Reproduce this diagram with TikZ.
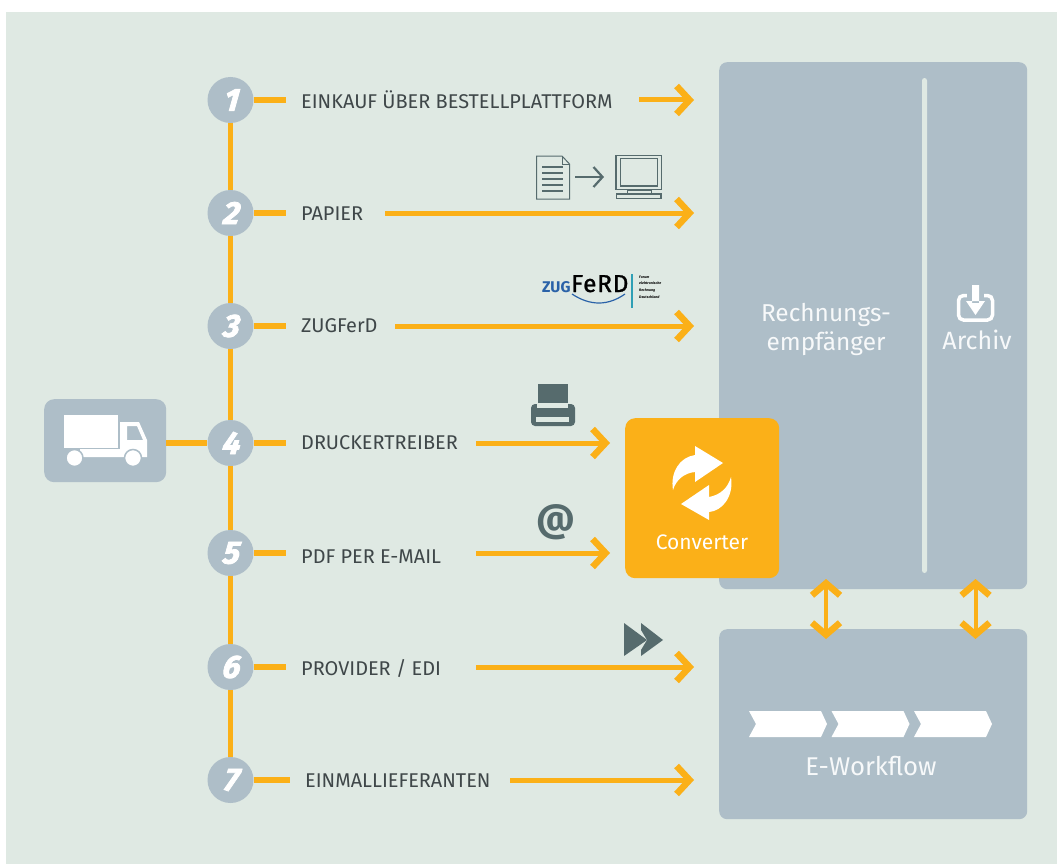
\documentclass[tikz,border=0pt]{standalone}
\usepackage{fontspec}
\setmainfont{Fira Sans}
\newfontfamily\numfont[BoldItalicFeatures={FakeBold=2.5,FakeSlant=0.14}]{Fira Sans}
\newfontfamily\zugfont[FakeBold=1,LetterSpace=3]{Fira Sans}
\usetikzlibrary{arrows.meta}
\definecolor{bgc}{HTML}{DFE9E3}
\definecolor{panelc}{HTML}{AEBEC8}
\definecolor{orangec}{HTML}{FBB018}
\definecolor{darkc}{HTML}{566B6D}
\definecolor{txtc}{HTML}{3F4749}
\definecolor{softw}{HTML}{F7F9FA}
\definecolor{zugblue}{HTML}{2A62A8}
\definecolor{zugteal}{HTML}{2F9FB5}
\tikzset{
 x=1pt,y=-1pt,
 num/.style={circle,fill=panelc,minimum size=46pt,inner sep=0pt,text=white,font=\fontsize{32}{32}\selectfont\numfont\bfseries\itshape},
 lbl/.style={anchor=west,inner xsep=15pt,inner ysep=0pt,text=txtc,font=\fontsize{19.9}{22}\selectfont},
 ptxt/.style={inner sep=0pt,text=softw,font=\fontsize{24.4}{29}\selectfont,align=center},
 panel/.style={fill=panelc,rounded corners=8pt,inner sep=0pt,anchor=north west},
 stub/.style={draw=orangec,line width=5.5pt},
 arr/.style={draw=orangec,line width=5pt,-{Straight Barb[length=13pt,width=28pt,line width=6.5pt]}},
 dblarr/.style={draw=orangec,line width=4pt,{Straight Barb[length=12pt,width=28pt,line width=6.5pt]}-{Straight Barb[length=12pt,width=28pt,line width=6.5pt]}},
 ico/.style={draw=darkc,line width=1pt},
 chev/.style={fill=white},
}
\begin{document}
\begin{tikzpicture}
\useasboundingbox (0,0) rectangle (1057,864);
\fill[white] (0,0) rectangle (1057,864);
\fill[bgc] (6,12) rectangle (1057,864);
% panels
\node[panel,minimum width=308pt,minimum height=527pt] (rech) at (719,62) {};
\node[panel,minimum width=308pt,minimum height=190pt] (flow) at (719,629) {};
\node[panel,rounded corners=10pt,minimum width=122pt,minimum height=83pt] (truck) at (44,399) {};
\fill[bgc,rounded corners=2.5pt] (922,78) rectangle (927,573);
\node[ptxt] (t1) at (826,329) {Rechnungs-\\empfänger};
\node[ptxt,font=\fontsize{25}{29}\selectfont] (t2) at (977,340) {Archiv};
\node[ptxt,font=\fontsize{25.7}{29}\selectfont] (t3) at (871,766) {E-Workflow};
% circles
\node[num] (c1) at (230.5,100) {1};
\node[num] (c2) at (230.5,213) {2};
\node[num] (c3) at (230.5,326) {3};
\node[num] (c4) at (230.5,443) {4};
\node[num] (c5) at (230.5,553) {5};
\node[num] (c6) at (230.5,667) {6};
\node[num] (c7) at (230.5,780) {7};
\foreach \a/\b in {c1/c2,c2/c3,c3/c4,c4/c5,c5/c6,c6/c7} \draw[stub] (\a) -- (\b);
\draw[stub] (truck.east |- c4) -- (c4);
% labels
\node[lbl] (l1) at (286,100) {EINKAUF ÜBER BESTELLPLATTFORM};
\node[lbl] (l2) at (286,214) {PAPIER};
\node[lbl] (l3) at (286,326) {ZUGFerD};
\node[lbl] (l4) at (286,443) {DRUCKERTREIBER};
\node[lbl] (l5) at (286,557) {PDF PER E-MAIL};
\node[lbl] (l6) at (286,668) {PROVIDER / EDI};
\node[lbl] (l7) at (290,781) {EINMALLIEFERANTEN};
\draw[stub] (c1) -- (c1 -| l1.west);
\draw[stub] (c2) -- (c2 -| l2.west);
\draw[stub] (c3) -- (c3 -| l3.west);
\draw[stub] (c4) -- (c4 -| l4.west);
\draw[stub] (c5) -- (c5 -| l5.west);
\draw[stub] (c6) -- (c6 -| l6.west);
\draw[stub] (c7) -- (c7 -| l7.west);
% converter
\node[panel,fill=orangec,rounded corners=10pt,minimum width=154pt,minimum height=160pt] (conv) at (625,418) {};
\node[ptxt,font=\fontsize{21}{24}\selectfont,text=white] (t4) at (702,542) {Converter};
% arrows
\coordinate (s1) at (639,100);
\coordinate (s2) at (385,213);
\coordinate (s3) at (395,326);
\coordinate (s4) at (476,443);
\coordinate (s5) at (476,553);
\coordinate (s6) at (476,667);
\coordinate (s7) at (510,780);
\draw[arr,shorten >=25pt] (s1) -- (s1 -| rech.west);
\draw[arr,shorten >=25pt] (s2) -- (s2 -| rech.west);
\draw[arr,shorten >=25pt] (s3) -- (s3 -| rech.west);
\draw[arr,shorten >=15pt] (s4) -- (s4 -| conv.west);
\draw[arr,shorten >=15pt] (s5) -- (s5 -| conv.west);
\draw[arr,shorten >=25pt] (s6) -- (s6 -| flow.west);
\draw[arr,shorten >=25pt] (s7) -- (s7 -| flow.west);
% double arrows
\coordinate (d1a) at (826,579); \coordinate (d1b) at (826,639);
\coordinate (d2a) at (975.5,579); \coordinate (d2b) at (975.5,639);
\draw[dblarr] (d1a) -- (d1b);
\draw[dblarr] (d2a) -- (d2b);
% converter arrows
\fill[white] (695,446) -- (723,463) -- (695,482) -- (695,472) .. controls (684,473) and (676,480) .. (673,490) .. controls (670,472) and (680,457) .. (695,455) -- cycle;
\fill[white] (709,485) -- (681,504) -- (709,520) -- (709,512) .. controls (722,511) and (734,497) .. (731,477) .. controls (728,488) and (720,495) .. (709,497) -- cycle;
% chevrons
\foreach \dx in {0,82.5,165}
 \fill[chev,xshift=\dx pt] (749,711) -- (821,711) -- (827,724) -- (821,737) -- (749,737) -- (756,724) -- cycle;
% archive icon
\draw[white,line width=3.5pt,rounded corners=5pt] (958.5,295.5) rectangle (992.5,320);
\fill[panelc] (967,290) rectangle (984,298.5);
\fill[white] (972,285) rectangle (979,303) (966,301) -- (985,301) -- (975.5,315) -- cycle;
% truck
\fill[white] (64,415) rectangle (118,448);
\fill[white,even odd rule] (120,422) -- (139,422) -- (147,440) -- (147,457) -- (80,457) -- (80,449) -- (120,449) -- cycle (127,426) -- (137,426) -- (143,440) -- (127,440) -- cycle;
\fill[white,draw=panelc,line width=1.5pt] (74.5,458) circle (8.5pt) (133,458) circle (8.5pt);
% doc icon
\draw[ico,fill=bgc] (536.5,156) -- (562,156) -- (569.5,164) -- (569.5,199) -- (536.5,199) -- cycle;
\draw[ico] (562,156) -- (562,164) -- (569.5,164);
\foreach \yy in {167,173,179,185,191} \draw[darkc,line width=1.4pt] (542,\yy) -- (563,\yy);
\coordinate (ia) at (575,177); \coordinate (ib) at (604,177);
\draw[darkc,line width=2.2pt,-{Straight Barb[length=9pt,width=20pt,line width=2.2pt]}] (ia) -- (ib);
% monitor
\draw[darkc,line width=1.5pt,fill=bgc] (616,155.5) rectangle (661.5,189.5);
\draw[darkc,line width=1.5pt] (620.5,158.5) rectangle (657.5,186);
\draw[darkc,line width=1pt] (627,190) rectangle (651,193);
\draw[darkc,line width=1.5pt] (616.5,194) rectangle (661,198.5);
% zugferd logo
\node[inner sep=0pt,anchor=base west,text=zugblue,font=\fontsize{15.5}{15}\selectfont\bfseries] (z1) at (542,292) {ZUG};
\node[inner sep=0pt,anchor=base west,text=black,font=\fontsize{24.5}{24}\selectfont\zugfont] (z2) at (571,292) {FeRD};
\draw[zugblue,line width=1.2pt] (572,294) .. controls (590,306) and (608,306) .. (625,294);
\draw[zugteal,line width=1.2pt] (632,274) -- (632,308);
\node[inner sep=0pt,anchor=west,text=black,font=\fontsize{3.6}{6.6}\selectfont\bfseries\itshape,align=left] (z3) at (639,287) {Forum\\elektronische\\Rechnung\\Deutschland};
% printer
\fill[darkc] (538,384) rectangle (568,405);
\fill[darkc,rounded corners=4pt] (531,404) rectangle (575,426);
\fill[bgc] (537,403) rectangle (568,408);
\fill[bgc] (536,417) rectangle (569,422);
% at sign
\node[inner sep=0pt,text=darkc,font=\fontsize{38}{38}\selectfont\bfseries] (at) at (556,522) {@};
% fast forward
\fill[darkc] (624,623) -- (647,640) -- (624,656) -- cycle;
\fill[bgc] (639,623) -- (648,640) -- (639,658) -- (645,658) -- (652,640) -- (645,623) -- cycle;
\fill[darkc] (641,623) -- (663,640) -- (641,656) -- (641,650) -- (647,640) -- (641,630) -- cycle;
\end{tikzpicture}
\end{document}
